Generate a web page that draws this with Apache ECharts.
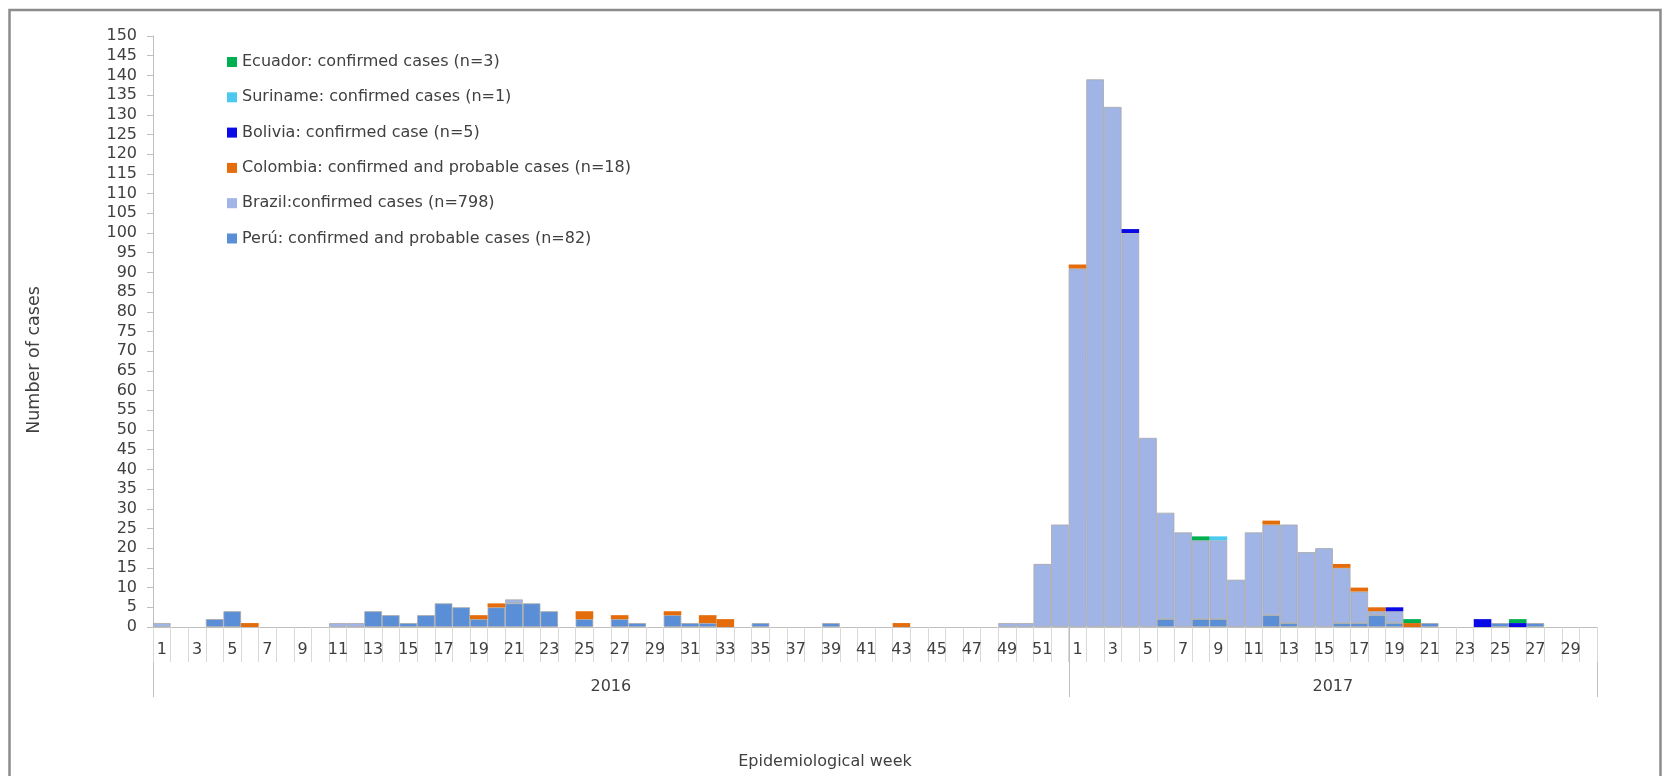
<!DOCTYPE html>
<html><head><meta charset="utf-8">
<script src="https://cdn.jsdelivr.net/npm/echarts@6/dist/echarts.min.js"></script>
<style>html,body{margin:0;padding:0;background:#fff;} #c{width:1663px;height:776px;}</style>
</head><body><div id="c"></div>
<script>
// ---------- DATA ----------
const weeks2016 = ['1','2','3','4','5','6','7','8','9','10','11','12','13','14','15','16','17','18','19','20','21','22','23','24','25','26','27','28','29','30','31','32','33','34','35','36','37','38','39','40','41','42','43','44','45','46','47','48','49','50','51','52'];
const weeks2017 = ['1','2','3','4','5','6','7','8','9','10','11','12','13','14','15','16','17','18','19','20','21','22','23','24','25','26','27','28','29','30'];
const yearLabels = ['2016', '2017'];

const peru2016     = [0,0,0,2,4,0,0,0,0,0, 0,0,4,3,1,3,6,5,2,5, 6,6,4,0,2,0,2,1,0,3, 1,1,0,0,1,0,0,0,1,0, 0,0,0,0,0,0,0,0,0,0, 0,0];
const peru2017     = [0,0,0,0,0,2,0,2,2,0, 0,3,1,0,0,1,1,3,1,0, 1,0,0,0,1,0,1,0,0,0];
const brazil2016   = [1,0,0,0,0,0,0,0,0,0, 1,1,0,0,0,0,0,0,0,0, 1,0,0,0,0,0,0,0,0,0, 0,0,0,0,0,0,0,0,0,0, 0,0,0,0,0,0,0,0,1,1, 16,26];
const brazil2017   = [91,139,132,100,48,27,24,20,20,12, 24,23,25,19,20,14,8,1,3,0, 0,0,0,0,0,0,0,0,0,0];
const colombia2016 = [0,0,0,0,0,1,0,0,0,0, 0,0,0,0,0,0,0,0,1,1, 0,0,0,0,2,0,1,0,0,1, 0,2,2,0,0,0,0,0,0,0, 0,0,1,0,0,0,0,0,0,0, 0,0];
const colombia2017 = [1,0,0,0,0,0,0,0,0,0, 0,1,0,0,0,1,1,1,0,1, 0,0,0,0,0,0,0,0,0,0];
const bolivia2016  = new Array(52).fill(0);
const bolivia2017  = [0,0,0,1,0,0,0,0,0,0, 0,0,0,0,0,0,0,0,1,0, 0,0,0,2,0,1,0,0,0,0];
const suriname2016 = new Array(52).fill(0);
const suriname2017 = [0,0,0,0,0,0,0,0,1,0, 0,0,0,0,0,0,0,0,0,0, 0,0,0,0,0,0,0,0,0,0];
const ecuador2016  = new Array(52).fill(0);
const ecuador2017  = [0,0,0,0,0,0,0,1,0,0, 0,0,0,0,0,0,0,0,0,1, 0,0,0,0,0,1,0,0,0,0];

const seriesNames = {
  ecuador: 'Ecuador: confirmed cases (n=3)',
  suriname: 'Suriname: confirmed cases (n=1)',
  bolivia: 'Bolivia: confirmed case (n=5)',
  colombia: 'Colombia: confirmed and probable cases (n=18)',
  brazil: 'Brazil:confirmed cases (n=798)',
  peru: 'Perú: confirmed and probable cases (n=82)'
};
const yAxisTitle = 'Number of cases';
const xAxisTitle = 'Epidemiological week';

// ---------- CHART ----------
const FONT = 'DejaVu Sans';
const TXT = '#404040';
const AXIS = '#bfbfbf';
const categories = weeks2016.concat(weeks2017);
const nz = arr => arr.map(v => (v === 0 ? '-' : v));

function mk(key, a, b, color, border) {
  return {
    name: seriesNames[key], type: 'bar', stack: 'all',
    barCategoryGap: '0%', barGap: '0%',
    data: nz(a.concat(b)),
    itemStyle: border ? { color: color, borderColor: '#a8a8a8', borderWidth: 0.8 } : { color: color },
    emphasis: { disabled: true }
  };
}

const chart = echarts.init(document.getElementById('c'), null, { renderer: 'canvas' });
chart.setOption({
  animation: false,
  backgroundColor: '#ffffff',
  textStyle: { fontFamily: FONT },
  grid: { left: 153, right: 66, top: 36, bottom: 149, containLabel: false },
  legend: {
    orient: 'vertical', left: 222, top: 49,
    itemWidth: 10, itemHeight: 10, itemGap: 19.3, icon: 'rect',
    itemStyle: { borderWidth: 0 },
    textStyle: { fontFamily: FONT, fontSize: 16, color: TXT, lineHeight: 16 },
    data: [seriesNames.ecuador, seriesNames.suriname, seriesNames.bolivia,
           seriesNames.colombia, seriesNames.brazil, seriesNames.peru]
  },
  xAxis: {
    type: 'category', data: categories, boundaryGap: true,
    axisLine: { lineStyle: { color: AXIS, width: 1 } },
    axisTick: { show: true, interval: 0, length: 35, lineStyle: { color: '#d9d9d9', width: 1 } },
    axisLabel: { interval: 1, margin: 15, color: TXT, fontFamily: FONT, fontSize: 16 }
  },
  yAxis: {
    type: 'value', min: 0, max: 150, interval: 5,
    axisLine: { show: true, lineStyle: { color: AXIS, width: 1 } },
    axisTick: { show: true, length: 6, lineStyle: { color: AXIS } },
    splitLine: { show: false },
    axisLabel: { margin: 16, color: TXT, fontFamily: FONT, fontSize: 16 }
  },
  series: [
    mk('peru', peru2016, peru2017, '#5a8fd8', true),
    mk('brazil', brazil2016, brazil2017, '#a0b4e6', true),
    mk('colombia', colombia2016, colombia2017, '#e46c0a', false),
    mk('bolivia', bolivia2016, bolivia2017, '#0a0ae6', false),
    mk('suriname', suriname2016, suriname2017, '#4cc9f0', false),
    mk('ecuador', ecuador2016, ecuador2017, '#00b050', false)
  ]
});

// multi-level axis decorations derived from the axis scale
const c0 = chart.convertToPixel({ xAxisIndex: 0 }, 0);
const c1 = chart.convertToPixel({ xAxisIndex: 0 }, 1);
const half = (c1 - c0) / 2;
const y0 = chart.convertToPixel({ yAxisIndex: 0 }, 0);
const xStart = c0 - half;
const xDiv = chart.convertToPixel({ xAxisIndex: 0 }, weeks2016.length - 1) + half;
const xEnd = chart.convertToPixel({ xAxisIndex: 0 }, categories.length - 1) + half;
const lineStyle = { stroke: AXIS, lineWidth: 1 };

chart.setOption({
  graphic: [
    { type: 'rect', shape: { x: 9.5, y: 10, width: 1651, height: 800 }, style: { fill: 'none', stroke: '#8c8c8c', lineWidth: 2.5 }, silent: true },
    { type: 'line', shape: { x1: Math.round(xStart) + 0.5, y1: y0, x2: Math.round(xStart) + 0.5, y2: y0 + 70 }, style: lineStyle, silent: true },
    { type: 'line', shape: { x1: Math.round(xDiv) + 0.5, y1: y0, x2: Math.round(xDiv) + 0.5, y2: y0 + 70 }, style: lineStyle, silent: true },
    { type: 'line', shape: { x1: Math.round(xEnd) + 0.5, y1: y0, x2: Math.round(xEnd) + 0.5, y2: y0 + 70 }, style: lineStyle, silent: true },
    { type: 'text', x: (xStart + xDiv) / 2, y: y0 + 60, style: { text: yearLabels[0], fill: TXT, font: '16px "DejaVu Sans"', textAlign: 'center', textVerticalAlign: 'middle' }, silent: true },
    { type: 'text', x: (xDiv + xEnd) / 2, y: y0 + 60, style: { text: yearLabels[1], fill: TXT, font: '16px "DejaVu Sans"', textAlign: 'center', textVerticalAlign: 'middle' }, silent: true },
    { type: 'text', x: 825, y: 762, style: { text: xAxisTitle, fill: TXT, font: '16px "DejaVu Sans"', textAlign: 'center', textVerticalAlign: 'middle' }, silent: true },
    { type: 'text', x: 34, y: 360, rotation: Math.PI / 2, style: { text: yAxisTitle, fill: TXT, font: '17.5px "DejaVu Sans"', textAlign: 'center', textVerticalAlign: 'middle' }, silent: true }
  ]
});
</script>
</body></html>
